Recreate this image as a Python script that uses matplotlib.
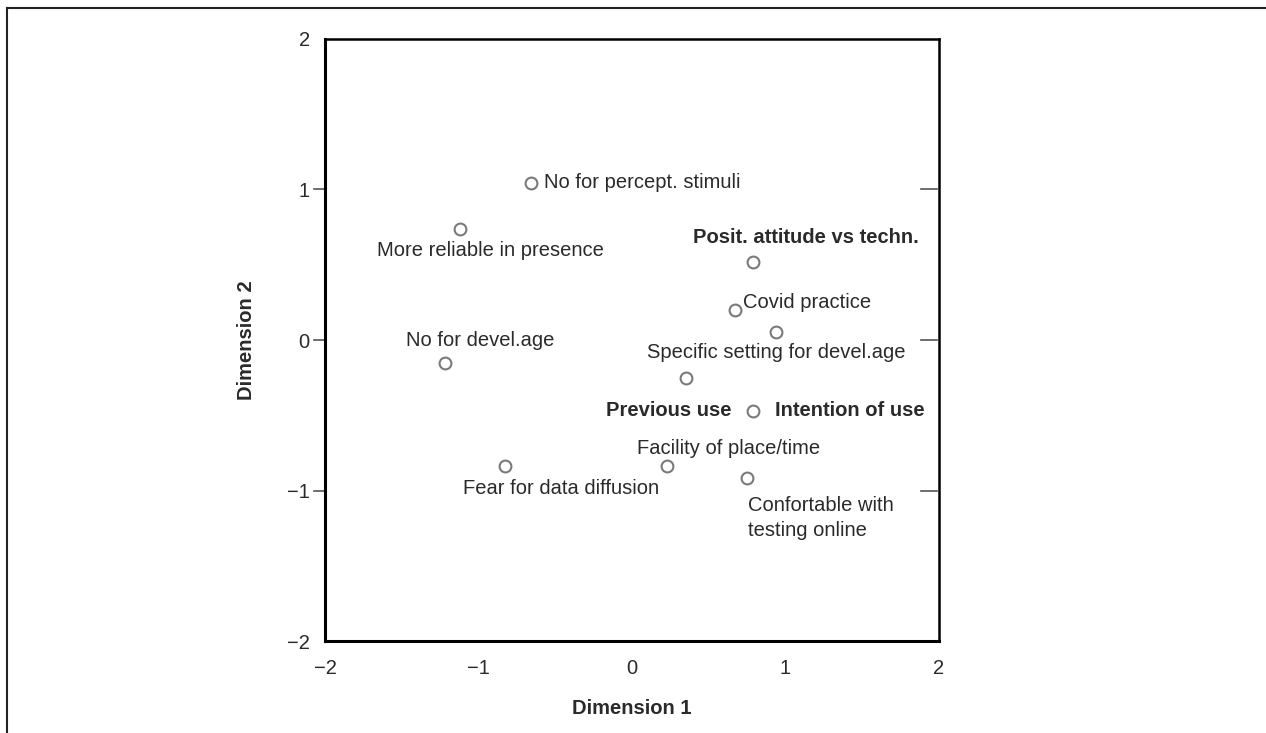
import numpy as np
import matplotlib.pyplot as plt
from matplotlib.lines import Line2D

plt.rcParams['font.family'] = ['Liberation Sans', 'DejaVu Sans']

# coordinates
labels = ['No for percept. stimuli', 'More reliable in presence', 'Posit. attitude vs techn.',
          'Covid practice', 'Specific setting for devel.age', 'No for devel.age', '',
          'Previous use', 'Facility of place/time', 'Fear for data diffusion',
          'Confortable with\ntesting online']
dim1 = [-0.66, -1.12, 0.79, 0.67, 0.94, -1.22, 0.35, 0.79, 0.23, -0.83, 0.75]
dim2 = [1.04, 0.74, 0.52, 0.20, 0.05, -0.15, -0.25, -0.47, -0.84, -0.84, -0.92]
bold = [False, False, True, False, False, False, False, True, False, False, False]
extra_label = 'Intention of use'  # shares the point with 'Previous use'

# label placement (pixel offsets from the point, alignment)
offsets = [(13, 1, 'left'), (30, -22, 'center'), (53, 24, 'center'), (8, 7, 'left'),
           (0, -20, 'center'), (35, 22, 'center'), (0, 0, 'center'), (-22, 0, 'right'),
           (61, 18, 'center'), (56, -22, 'center'), (1, -40, 'left')]

txt = '#2a2a2a'
fs = 14.5
fig = plt.figure(figsize=(12.66, 7.33), dpi=100)
ax = fig.add_axes([0.2567, 0.1255, 0.485, 0.8213])

ax.plot(dim1, dim2, 'o', ms=8.5, mfc='white', mec='#7a7a7a', mew=1.5, zorder=3)

for i, lab in enumerate(labels):
    if not lab:
        continue
    dx, dy, ha = offsets[i]
    ax.annotate(lab, (dim1[i], dim2[i]), xytext=(dx, dy), textcoords='offset pixels',
                ha=ha, va='center', fontsize=fs, color=txt,
                fontweight='bold' if bold[i] else 'normal', linespacing=1.4)
ax.annotate(extra_label, (dim1[7], dim2[7]), xytext=(22, 0), textcoords='offset pixels',
            ha='left', va='center', fontsize=fs, color=txt, fontweight='bold')

ax.set_xlim(-2, 2)
ax.set_ylim(-2, 2)
ax.set_xticks([-2, -1, 0, 1, 2])
ax.set_xticklabels(['\u22122', '\u22121', '0', '1', '2'])
ax.set_yticks([-2, -1, 0, 1, 2])
ax.set_yticklabels(['\u22122', '\u22121', '0', '1', '2'])
ax.tick_params(axis='both', length=0, labelsize=fs, labelcolor=txt)
ax.tick_params(axis='x', pad=13)
ax.tick_params(axis='y', pad=11)

# short tick marks at -1, 0, 1 on both vertical sides
for yv in [-1, 0, 1]:
    ax.plot([-2.07, -2.0], [yv, yv], color='#555555', lw=1.2, clip_on=False)
    ax.plot([1.88, 1.99], [yv, yv], color='#555555', lw=1.2)

for s in ['left', 'bottom']:
    ax.spines[s].set_linewidth(2.2)
for s in ['top', 'right']:
    ax.spines[s].set_linewidth(1.8)

ax.set_xlabel('Dimension 1', fontsize=fs, fontweight='bold', color=txt, labelpad=15)
ax.set_ylabel('Dimension 2', fontsize=fs, fontweight='bold', color=txt, labelpad=22)

# outer frame
fig.add_artist(Line2D([7 / 1266, 7 / 1266], [0, 1 - 8 / 733], color='#222222', lw=1.5))
fig.add_artist(Line2D([7 / 1266, 1], [1 - 8 / 733, 1 - 8 / 733], color='#222222', lw=1.5))

fig.savefig('out.png', dpi=100)
